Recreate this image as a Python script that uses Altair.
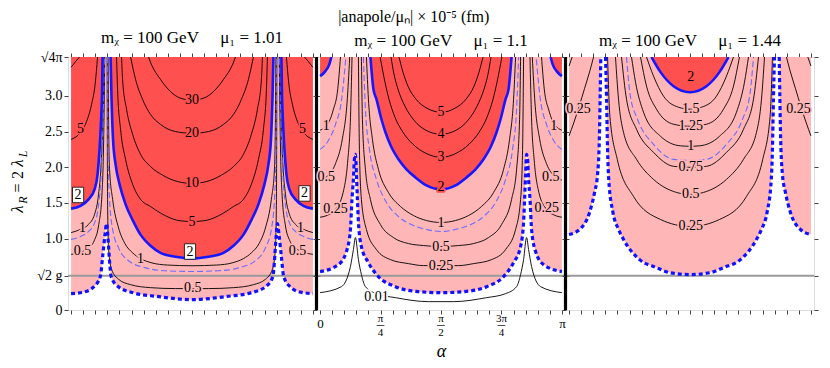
import math
import altair as alt
import pandas as pd

PI = math.pi
T = math.sqrt(4 * PI)      # top of the lambda axis
SQ2G = 0.48                # sqrt(2) g reference line
XPAD = 0.04

MAIN_TITLE = "|anapole/μₙ| × 10⁻⁵ (fm)"
PANEL_TITLES = ["mᵪ = 100 GeV\u2003 μ₁ = 1.01",
                "mᵪ = 100 GeV\u2003 μ₁ = 1.1",
                "mᵪ = 100 GeV\u2003 μ₁ = 1.44"]
Y_TICKS = [0, SQ2G, 1.0, 1.5, 2.0, 2.5, 3.0, T]
X_TICKS = [k * PI / 20 for k in range(21)]
X_FRACS = [(PI / 4, "π", "4"), (PI / 2, "π", "2"), (3 * PI / 4, "3π", "4")]

# ---------------- panel 1 (mu1 = 1.01) ----------------
P1_PINK = [(0, 0.23), (0.16, 0.25), (0.29, 0.32), (0.38, 0.47), (0.41, 0.75), (0.44, 1.05),
           (0.461, 1.21), (0.48, 1.0), (0.50, 0.68), (0.52, 0.47), (0.61, 0.33), (0.81, 0.24),
           (1.12, 0.19), (1.571, 0.145)]
P1_BLUE_EDGE = [(0, 1.42), (0.123, 1.46), (0.227, 1.55), (0.305, 1.69), (0.344, 1.90), (0.37, 2.25),
                (0.39, 2.67), (0.403, 3.09), (0.409, T)]
P1_BLUE_U = [(0.513, T), (0.526, 2.95), (0.545, 2.39), (0.578, 2.04), (0.63, 1.76), (0.708, 1.48),
             (0.80, 1.26), (0.90, 1.06), (1.032, 0.90), (1.162, 0.80), (1.357, 0.745), (1.571, 0.72)]
P1_C30 = [(1.006, T), (1.032, 3.47), (1.162, 3.23), (1.292, 3.06), (1.416, 2.97), (1.571, 2.94)]
P1_C20 = [(0.773, T), (0.838, 3.23), (0.929, 2.95), (1.032, 2.74), (1.162, 2.60), (1.357, 2.50), (1.571, 2.476)]
P1_C10 = [(0.656, T), (0.669, 3.23), (0.721, 2.81), (0.80, 2.46), (0.903, 2.18), (1.032, 2.01),
          (1.188, 1.89), (1.383, 1.80), (1.571, 1.774)]
P1_C5 = [(0.591, T), (0.604, 3.09), (0.643, 2.53), (0.708, 2.11), (0.80, 1.76), (0.903, 1.55),
         (1.032, 1.45), (1.227, 1.32), (1.416, 1.25), (1.571, 1.24)]
P1_C1 = [(0.481, T), (0.487, 2.67), (0.50, 1.97), (0.54, 1.55), (0.617, 1.15), (0.70, 0.93),
         (0.80, 0.80), (0.903, 0.72), (1.05, 0.66), (1.25, 0.63), (1.571, 0.62)]
P1_CDASH = [(0.474, T), (0.48, 2.25), (0.50, 1.55), (0.54, 1.13), (0.617, 0.87), (0.747, 0.69),
            (0.968, 0.59), (1.227, 0.55), (1.571, 0.54)]
P1_C05 = [(0.468, T), (0.474, 1.55), (0.487, 0.85), (0.526, 0.57), (0.617, 0.43), (0.773, 0.355),
          (1.032, 0.313), (1.357, 0.30), (1.571, 0.30)]
P1_E10 = [(0, 3.40), (0.058, 3.48), (0.11, T)]
P1_E5 = [(0, 2.39), (0.123, 2.49), (0.201, 2.64), (0.266, 2.88), (0.312, 3.16), (0.344, T)]
P1_E1 = [(0, 1.085), (0.123, 1.13), (0.227, 1.20), (0.305, 1.34), (0.357, 1.62), (0.390, 2.04),
         (0.409, 2.53), (0.422, 3.09), (0.429, T)]
P1_EDASH = [(0, 0.99), (0.123, 1.03), (0.227, 1.10), (0.305, 1.22), (0.36, 1.50), (0.393, 1.95),
            (0.412, 2.5), (0.425, 3.1), (0.433, T)]
P1_E05 = [(0, 0.78), (0.123, 0.81), (0.227, 0.87), (0.30, 0.97), (0.36, 1.2), (0.40, 1.6),
          (0.42, 2.2), (0.432, 3.0), (0.438, T)]
P1_LABELS = [(1.571, 2.94, "30", "r"), (1.571, 2.476, "20", "r"), (1.571, 1.774, "10", "r"),
             (1.571, 1.24, "5", "r"), (1.58, 0.31, "0.5", "p"), (0.903, 0.72, "1", "p"),
             (0.123, 2.53, "5", "r"), (3.006, 2.53, "5", "r"), (0.149, 1.15, "1", "p"),
             (2.98, 1.15, "1", "p"), (0.149, 0.82, "0.5", "p"), (2.94, 0.82, "0.5", "p")]
P1_BOXES = [(0.091, 1.612, "2"), (3.032, 1.633, "2"), (1.545, 0.819, "2")]

# ---------------- panel 2 (mu1 = 1.1) ----------------
P2_PINK = [(0, 0.538), (0.238, 0.636), (0.342, 0.819), (0.394, 1.128), (0.414, 1.549), (0.433, 1.83),
           (0.446, 2.11), (0.459, 2.18), (0.472, 1.90), (0.485, 1.55), (0.498, 1.23), (0.537, 0.889),
           (0.628, 0.664), (0.758, 0.468), (0.979, 0.327), (1.278, 0.257), (1.571, 0.243)]
P2_BLUE_EDGE = [(0, 3.277), (0.069, 3.347), (0.121, 3.445), (0.147, T)]
P2_BLUE_U = [(0.654, T), (0.693, 3.094), (0.732, 2.954), (0.797, 2.673), (0.849, 2.490), (0.927, 2.280),
             (1.018, 2.111), (1.122, 1.971), (1.239, 1.858), (1.382, 1.746), (1.571, 1.690)]
P2_C001 = [(0, 0.243), (0.277, 0.327), (0.394, 0.608), (0.433, 0.847), (0.459, 1.015), (0.498, 0.706),
           (0.537, 0.496), (0.589, 0.327), (0.732, 0.229), (0.979, 0.173), (1.408, 0.117), (1.571, 0.117)]
P2_C3 = [(0.780, T), (0.843, 3.192), (0.895, 2.954), (0.973, 2.701), (1.077, 2.490), (1.207, 2.322),
         (1.376, 2.195), (1.571, 2.139)]
P2_C4 = [(0.921, T), (0.960, 3.305), (1.012, 3.094), (1.103, 2.855), (1.220, 2.659), (1.376, 2.518), (1.571, 2.462)]
P2_C5 = [(1.025, T), (1.077, 3.333), (1.142, 3.136), (1.246, 2.954), (1.389, 2.827), (1.571, 2.771)]
P2_C1 = [(0.602, T), (0.628, 2.954), (0.680, 2.392), (0.758, 1.971), (0.888, 1.647), (1.044, 1.451),
         (1.213, 1.324), (1.382, 1.254), (1.571, 1.226)]
P2_CDASH = [(0.563, T), (0.589, 2.813), (0.641, 2.251), (0.732, 1.830), (0.862, 1.507), (1.018, 1.310),
            (1.213, 1.184), (1.382, 1.128), (1.571, 1.100)]
P2_C05 = [(0.537, T), (0.550, 2.673), (0.589, 1.971), (0.654, 1.549), (0.784, 1.198), (0.953, 1.015),
          (1.148, 0.931), (1.343, 0.903), (1.571, 0.889)]
P2_C025 = [(0.498, T), (0.511, 2.251), (0.537, 1.549), (0.602, 1.128), (0.732, 0.847), (0.914, 0.706),
           (1.148, 0.650), (1.343, 0.622), (1.571, 0.622)]
P2_E1 = [(0, 2.52), (0.09, 2.59), (0.17, 2.80), (0.23, 3.1), (0.265, T)]
P2_EDASH = [(0, 2.25), (0.1, 2.36), (0.2, 2.6), (0.28, 2.95), (0.335, T)]
P2_E05 = [(0, 1.82), (0.09, 1.87), (0.2, 2.05), (0.29, 2.4), (0.35, 2.9), (0.385, T)]
P2_E025 = [(0, 1.30), (0.1, 1.33), (0.2, 1.41), (0.3, 1.65), (0.36, 2.1), (0.395, 2.7), (0.415, T)]
P2_LABELS = [(1.571, 2.771, "5", "r"), (1.571, 2.462, "4", "r"), (1.571, 2.139, "3", "r"),
             (1.571, 1.72, "2", "r"), (1.571, 1.226, "1", "p"), (1.571, 0.889, "0.5", "p"),
             (1.571, 0.622, "0.25", "p"), (0.732, 0.187, "0.01", "w"),
             (0.08, 2.574, "1", "p"), (0.08, 1.858, "0.5", "p"), (0.199, 1.409, "0.25", "p"),
             (3.034, 2.574, "1", "p"), (2.995, 1.858, "0.5", "p"), (2.943, 1.423, "0.25", "p")]

# ---------------- panel 3 (mu1 = 1.44) ----------------
P3_PINK = [(0, 1.058), (0.136, 1.128), (0.266, 1.367), (0.331, 1.647), (0.370, 1.90), (0.393, 2.39),
           (0.403, 2.95), (0.412, T), (0.474, T), (0.487, 2.95), (0.50, 2.25), (0.515, 1.83),
           (0.57, 1.367), (0.643, 1.128), (0.708, 0.987), (0.916, 0.706), (1.136, 0.594),
           (1.305, 0.524), (1.571, 0.496)]
P3_BLUE_U = [(1.071, T), (1.188, 3.333), (1.357, 3.136), (1.571, 3.052)]
P3_C15 = [(1.006, T), (1.097, 3.277), (1.227, 2.996), (1.422, 2.841), (1.571, 2.813)]
P3_C125 = [(0.928, T), (1.006, 3.136), (1.136, 2.813), (1.357, 2.603), (1.571, 2.574)]
P3_C1 = [(0.811, T), (0.863, 3.192), (0.967, 2.771), (1.188, 2.434), (1.448, 2.30), (1.571, 2.294)]
P3_CDASH = [(0.746, T), (0.792, 3.024), (0.889, 2.673), (1.097, 2.322), (1.357, 2.111), (1.571, 2.097)]
P3_C075 = [(0.681, T), (0.746, 2.954), (0.876, 2.532), (1.097, 2.209), (1.357, 2.013), (1.571, 1.999)]
P3_C05 = [(0.603, T), (0.642, 2.954), (0.707, 2.490), (0.876, 2.111), (1.097, 1.830), (1.396, 1.647), (1.571, 1.619)]
P3_C025 = [(0.50, T), (0.53, 2.715), (0.626, 2.111), (0.837, 1.591), (1.188, 1.268), (1.571, 1.170)]
P3_E025 = [(0, 2.44), (0.06, 2.62), (0.13, 2.85), (0.2, 3.1), (0.27, 3.35), (0.318, T)]
P3_E05 = [(0, 3.42), (0.04, T)]
P3_LABELS = [(1.58, 3.26, "2", "r"), (1.58, 2.813, "1.5", "p"), (1.58, 2.574, "1.25", "p"),
             (1.58, 2.294, "1", "p"), (1.58, 1.999, "0.75", "p"), (1.58, 1.619, "0.5", "p"),
             (1.58, 1.17, "0.25", "p"), (0.123, 2.81, "0.25", "p"), (2.981, 2.81, "0.25", "p")]

# ---------------- assembly ----------------
FONT = "Liberation Serif, Times New Roman, Times, serif"
RED = "#ff5050"
PINK = "#ffb6b6"
BG = {"r": RED, "p": PINK, "w": "#ffffff"}
STYLES = {
    "black": dict(color="black", strokeWidth=0.9),
    "dash": dict(color="#6b6bff", strokeWidth=1.1, strokeDash=[6, 3]),
    "blue": dict(color="#1616ff", strokeWidth=2.6),
    "dot": dict(color="#1010ff", strokeWidth=3.2, strokeDash=[4, 3]),
}

PANELS = [
    dict(pink=P1_PINK, red=P1_BLUE_EDGE + P1_BLUE_U,
         lines=[("black", "U", P1_C30), ("black", "U", P1_C20), ("black", "U", P1_C10), ("black", "U", P1_C5),
                ("black", "U", P1_C1), ("dash", "U", P1_CDASH), ("black", "U", P1_C05),
                ("black", "arm", P1_E10), ("black", "arm", P1_E5), ("black", "arm", P1_E1),
                ("dash", "arm", P1_EDASH), ("black", "arm", P1_E05),
                ("blue", "arm", P1_BLUE_EDGE), ("blue", "U", P1_BLUE_U), ("dot", "U", P1_PINK)],
         labels=P1_LABELS, boxes=P1_BOXES),
    dict(pink=P2_PINK, red=P2_BLUE_EDGE + P2_BLUE_U,
         lines=[("black", "U", P2_C001), ("black", "U", P2_C3), ("black", "U", P2_C4), ("black", "U", P2_C5),
                ("black", "U", P2_C1), ("dash", "U", P2_CDASH), ("black", "U", P2_C05), ("black", "U", P2_C025),
                ("black", "arm", P2_E1), ("dash", "arm", P2_EDASH), ("black", "arm", P2_E05),
                ("black", "arm", P2_E025),
                ("blue", "arm", P2_BLUE_EDGE), ("blue", "U", P2_BLUE_U), ("dot", "U", P2_PINK)],
         labels=P2_LABELS, boxes=[]),
    dict(pink=P3_PINK, red=[(0, T)] + P3_BLUE_U,
         lines=[("black", "U", P3_C15), ("black", "U", P3_C125), ("black", "U", P3_C1), ("dash", "U", P3_CDASH),
                ("black", "U", P3_C075), ("black", "U", P3_C05), ("black", "U", P3_C025),
                ("black", "arm", P3_E025), ("black", "arm", P3_E05),
                ("blue", "U", P3_BLUE_U), ("dot", "U", P3_PINK)],
         labels=P3_LABELS, boxes=[]),
]


def mirror(pts, mode):
    if mode == "U":
        right = [(PI - a, l) for a, l in reversed(pts) if a < PI / 2 - 1e-6]
        return [list(pts) + right]
    return [list(pts), [(PI - a, l) for a, l in pts]]


def split_top(poly):
    pieces, cur = [], [poly[0]]
    for p, q in zip(poly, poly[1:]):
        if p[1] >= T - 1e-6 and q[1] >= T - 1e-6:
            if len(cur) > 1:
                pieces.append(cur)
            cur = [q]
        else:
            cur.append(q)
    if len(cur) > 1:
        pieces.append(cur)
    return pieces


def area_df(pts):
    poly = mirror(pts, "U")[0]
    return pd.DataFrame([{"a": a, "l": min(l, T), "t": T} for a, l in poly])


XS = alt.Scale(domain=[-XPAD, PI + XPAD], nice=False, zero=False)
YS = alt.Scale(domain=[0, T], nice=False, zero=False)
H = 253


def X(field="a:Q", **kw):
    return alt.X(field, scale=XS, axis=kw.pop("axis", None), **kw)


def Y(field="l:Q", **kw):
    return alt.Y(field, scale=YS, axis=kw.pop("axis", None), **kw)


X_LABEL_EXPR = "abs(datum.value) < 1e-6 ? '0' : abs(datum.value - PI) < 1e-3 ? 'π' : ''"
Y_LABEL_EXPR = ("datum.value > 3.5 ? '√4π' : abs(datum.value - 0.48) < 1e-3 ? '√2 g' : "
                "datum.value == 0 ? '0' : format(datum.value, '.1f')")
TICK = dict(tickSize=4, tickColor="#444", tickWidth=1, domain=False, grid=False, title=None)


def build_panel(i, spec):
    first = i == 0
    xaxis = alt.Axis(values=X_TICKS, labels=(i == 1), labelExpr=X_LABEL_EXPR, labelFont=FONT,
                     labelFontSize=13, labelColor="black", tickSize=4, tickColor="#444",
                     domain=False, grid=False,
                     title="α" if i == 1 else None, titleFont=FONT, titleFontSize=18,
                     titleFontStyle="italic", titleFontWeight="normal", titleColor="black",
                     titlePadding=12, labelPadding=3)
    yaxis = alt.Axis(values=Y_TICKS, labels=first, labelExpr=Y_LABEL_EXPR, labelFont=FONT,
                     labelFontSize=14, labelColor="black", tickSize=4, tickColor="#444",
                     domain=False, grid=False, title=None, labelPadding=2)
    pink = alt.Chart(area_df(spec["pink"])).mark_area(color=PINK, interpolate="monotone", clip=True).encode(
        x=X(axis=xaxis), y=Y(axis=yaxis, stack=None), y2=alt.Y2("t:Q"))
    frame_ticks = alt.Chart(area_df(spec["pink"])).mark_point(opacity=0).encode(
        x=X(axis=alt.Axis(orient="top", values=X_TICKS, labels=False, **TICK)),
        y=Y(axis=alt.Axis(orient="right", values=Y_TICKS, labels=False, **TICK)))
    red = alt.Chart(area_df(spec["red"])).mark_area(color=RED, interpolate="monotone", clip=True).encode(
        x=X(), y=Y(stack=None), y2=alt.Y2("t:Q"))
    gray = alt.Chart(pd.DataFrame({"l": [SQ2G]})).mark_rule(color="#9a9a9a", strokeWidth=2).encode(y=Y())
    layers = [pink, frame_ticks, red, gray]

    for style in ["black", "dash", "blue", "dot"]:
        rows, g = [], 0
        for st, mode, pts in spec["lines"]:
            if st != style:
                continue
            for poly in mirror(pts, mode):
                for piece in split_top(poly):
                    for k, (a, l) in enumerate(piece):
                        rows.append({"a": a, "l": min(l, T), "g": g, "o": k})
                    g += 1
        if rows:
            layers.append(alt.Chart(pd.DataFrame(rows)).mark_line(
                interpolate="monotone", clip=True, strokeCap="butt", **STYLES[style]).encode(
                x=X(), y=Y(), detail="g:N", order="o:Q"))

    # frame dividers between panels
    edges = ([PI + XPAD] if i < 2 else []) + ([-XPAD] if i > 0 else [])
    if edges:
        layers.append(alt.Chart(pd.DataFrame({"a": edges})).mark_rule(color="black", strokeWidth=2.2)
                      .encode(x=X()))

    lab = pd.DataFrame([{"a": a, "l": l, "txt": t, "bg": BG[k]} for a, l, t, k in spec["labels"]])
    layers.append(alt.Chart(lab).mark_text(font=FONT, fontSize=14, strokeWidth=3.5, strokeJoin="round").encode(
        x=X(), y=Y(), text="txt:N",
        color=alt.Color("bg:N", scale=None), stroke=alt.Stroke("bg:N", scale=None)))
    layers.append(alt.Chart(lab).mark_text(font=FONT, fontSize=14, color="black").encode(
        x=X(), y=Y(), text="txt:N"))
    if spec["boxes"]:
        bx = pd.DataFrame([{"a": a, "l": l, "txt": t} for a, l, t in spec["boxes"]])
        layers.append(alt.Chart(bx).mark_point(shape="M-0.72,-1L0.72,-1L0.72,1L-0.72,1Z", size=240,
                                               filled=True, fill="white", stroke="black", strokeWidth=0.8,
                                               opacity=1).encode(x=X(), y=Y()))
        layers.append(alt.Chart(bx).mark_text(font=FONT, fontSize=14, color="black").encode(
            x=X(), y=Y(), text="txt:N"))

    if i == 1:
        fr = pd.DataFrame([{"a": a, "num": n, "den": d, "a1": a - 0.05, "a2": a + 0.05} for a, n, d in X_FRACS])
        layers.append(alt.Chart(fr).mark_text(font=FONT, fontSize=11, color="black", baseline="middle").encode(
            x=X(), y=alt.value(H + 9), text="num:N"))
        layers.append(alt.Chart(fr).mark_text(font=FONT, fontSize=11, color="black", baseline="middle").encode(
            x=X(), y=alt.value(H + 22.5), text="den:N"))
        layers.append(alt.Chart(fr).mark_rule(color="black", strokeWidth=0.7).encode(
            x=X("a1:Q"), x2="a2:Q", y=alt.value(H + 15.5)))

    if first:
        # composed y-axis title: lambda_R = 2 lambda_L
        pieces = [("λ", 17, "italic", -50, 152), ("R", 12, "italic", -45, 143), ("=", 16, "normal", -50, 131),
                  ("2", 16, "normal", -50, 118), ("λ", 17, "italic", -50, 106), ("L", 12, "italic", -45, 97)]
        for txt, fs, fst, px, py in pieces:
            layers.append(alt.Chart().mark_text(text=txt, font=FONT, fontSize=fs, fontStyle=fst, angle=270,
                                                color="black", baseline="middle", align="center").encode(
                x=alt.value(px), y=alt.value(py)))

    return alt.layer(*layers).resolve_axis(x="independent", y="independent").properties(
        width=248, height=H,
        title=alt.TitleParams(PANEL_TITLES[i], font=FONT, fontSize=17, fontWeight="normal", color="black",
                              offset=3))


chart = alt.hconcat(*[build_panel(i, s) for i, s in enumerate(PANELS)], spacing=1, bounds="flush").properties(
    padding=0,
    title=alt.TitleParams(MAIN_TITLE, font=FONT, fontSize=16, fontWeight="normal", color="black",
                          anchor="middle", offset=4)
).configure_view(stroke="#8a8a8a", strokeWidth=1.5).configure(background="white", font=FONT)

chart.save("out.html", embed_options={"renderer": "svg", "actions": False})
